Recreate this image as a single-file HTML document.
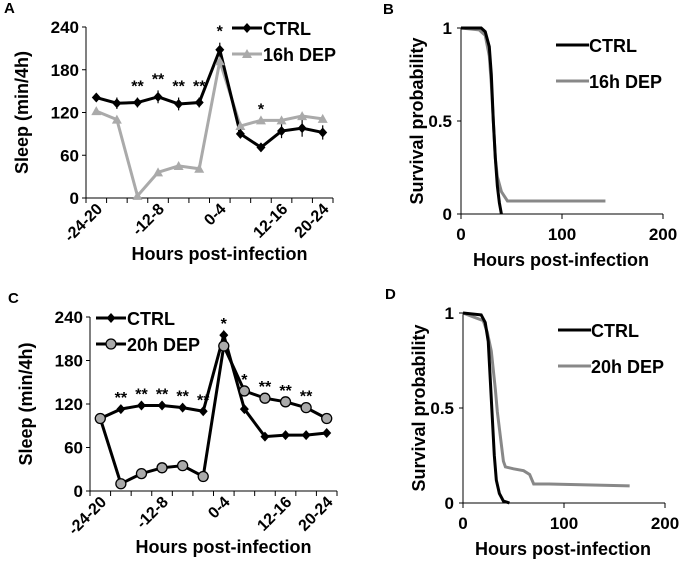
<!DOCTYPE html>
<html><head><meta charset="utf-8"><style>
body{margin:0;background:#fff;font-family:"Liberation Sans",Arial,sans-serif}
svg text{font-family:"Liberation Sans",Arial,sans-serif;font-weight:bold}
</style></head><body>
<svg id="fig" width="680" height="564" viewBox="0 0 680 564" xmlns="http://www.w3.org/2000/svg"></svg>
<script>
const cats=["-24-20","-20-16","-16-12","-12-8","-8-4","-4-0","0-4","4-8","8-12","12-16","16-20","20-24"];
const shownLabels=[0,3,6,9,11];
const yTicks=[0,60,120,180,240];
const aCtrl=[141,133,134,142,132,134,208,90,71,94,98,92];
const aCtrlErr=[5,8,7,9,9,7,10,6,5,10,12,10];
const aDep=[122,110,3,36,45,41,192,101,109,109,115,111];
const aStars=["","","**","**","**","**","*","","*","","",""];
const cCtrl=[100,113,118,118,115,110,215,113,75,77,77,80];
const cDep=[100,10,24,32,35,20,200,138,128,123,115,100];
const cStars=["","**","**","**","**","**","*","*","**","**","**",""];
const bCtrlT=[0,20,24,28,30,32,34,36,38,40];
const bCtrlS=[1,1,0.98,0.9,0.75,0.5,0.3,0.15,0.06,0];
const bDepT=[0,18,24,28,30,32,34,36,40,46,143];
const bDepS=[1,0.99,0.96,0.85,0.7,0.5,0.3,0.2,0.12,0.07,0.07];
const dCtrlT=[0,18,22,25,27,29,31,33,36,40,46];
const dCtrlS=[1,0.99,0.95,0.85,0.65,0.45,0.25,0.12,0.05,0.01,0];
const dDepT=[0,10,20,24,28,32,34,37,40,42,50,60,66,70,85,165];
const dDepS=[1,0.98,0.96,0.9,0.8,0.6,0.48,0.35,0.22,0.19,0.18,0.17,0.15,0.1,0.1,0.09];
const xTicksS=[0,100,200];
const yTicksS=[0,0.5,1];
const svg=document.getElementById('fig');
const NS="http://www.w3.org/2000/svg";
function el(tag,attrs,parent){const e=document.createElementNS(NS,tag);for(const k in attrs)e.setAttribute(k,attrs[k]);(parent||svg).appendChild(e);return e;}
function txt(s,attrs,parent){const t=el('text',attrs,parent);t.textContent=s;return t;}

function lineChart(id,letter,x0,x1,yTop,yBot,ctrl,err,dep,stars,depStyle,legendDep,legPos){
  const g=el('g',{});
  
  
  const step=(x1-x0)/cats.length;
  const X=i=>x0+step*(i+0.5);
  const Y=v=>yBot-(v/240)*(yBot-yTop);
  const lt=txt(letter,{x:x0-82,y:yTop-14,'font-size':15},g);
  
  el('line',{x1:x0,y1:yTop,x2:x0,y2:yBot,stroke:'#000','stroke-width':1},g);
  el('line',{x1:x0,y1:yBot,x2:x1,y2:yBot,stroke:'#000','stroke-width':1},g);
  yTicks.forEach(v=>{el('line',{x1:x0-4,y1:Y(v),x2:x0,y2:Y(v),stroke:'#000'},g);
    const t=txt(v,{x:x0-7,y:Y(v)+6,'font-size':17,'text-anchor':'end'},g);
    });
  for(let i=0;i<=cats.length;i++)el('line',{x1:x0+step*i,y1:yBot,x2:x0+step*i,y2:yBot+5,stroke:'#000'},g);
  shownLabels.forEach(i=>{const t=txt(cats[i],{transform:`translate(${X(i)+7},${yBot+12}) rotate(-45)`,'font-size':16,'text-anchor':'end'},g);
    });
  const yt=txt('Sleep (min/4h)',{transform:`translate(${x0-58},${(yTop+yBot)/2}) rotate(-90)`,'font-size':18,'text-anchor':'middle'},g);
  
  const xt=txt('Hours post-infection',{x:(x0+x1)/2+10,y:yBot+62,'font-size':18,'text-anchor':'middle'},g);
  
  const dc=depStyle==='tri'?'#aaa':'#000';
  const dl=el('polyline',{points:dep.map((v,i)=>X(i)+','+Y(v)).join(' '),fill:'none',stroke:dc,'stroke-width':3},g);
  
  const cl=el('polyline',{points:ctrl.map((v,i)=>X(i)+','+Y(v)).join(' '),fill:'none',stroke:'#000','stroke-width':3},g);
  
  if(err)ctrl.forEach((v,i)=>el('line',{x1:X(i),y1:Y(v+err[i]),x2:X(i),y2:Y(v-err[i]),stroke:'#000','stroke-width':1.2},g));
  function diamond(cx,cy){return el('polygon',{points:`${cx},${cy-5} ${cx+4.5},${cy} ${cx},${cy+5} ${cx-4.5},${cy}`,fill:'#000'},g);}
  function depMark(cx,cy){return depStyle==='tri'?el('polygon',{points:`${cx},${cy-5} ${cx+5},${cy+4} ${cx-5},${cy+4}`,fill:'#aaa'},g):el('circle',{cx:cx,cy:cy,r:5,fill:'#aaa',stroke:'#000','stroke-width':1.3},g);}
  if(depStyle==='tri'){
    dep.forEach((v,i)=>{const m=depMark(X(i),Y(v));});
    ctrl.forEach((v,i)=>{const m=diamond(X(i),Y(v));});
  } else {
    ctrl.forEach((v,i)=>{const m=diamond(X(i),Y(v));});
    dep.forEach((v,i)=>{const m=depMark(X(i),Y(v));});
  }
  stars.forEach((s,i)=>{if(!s)return;const top=Math.max(ctrl[i]+(err?err[i]:0),dep[i]);
    const t=txt(s,{x:X(i),y:Y(top)-6,'font-size':16,'text-anchor':'middle','font-weight':'normal'},g);
    });
  const [lx,ly]=legPos;
  el('line',{x1:lx,y1:ly,x2:lx+30,y2:ly,stroke:'#000','stroke-width':3},g);diamond(lx+15,ly);
  const l1=txt('CTRL',{x:lx+31,y:ly+7,'font-size':18},g);
  el('line',{x1:lx,y1:ly+26,x2:lx+30,y2:ly+26,stroke:dc,'stroke-width':3},g);depMark(lx+15,ly+26);
  const l2=txt(legendDep,{x:lx+31,y:ly+33,'font-size':18},g);
}
function survChart(id,letter,x0,x1,yTop,yBot,cT,cS,dT,dS,legendDep){
  const g=el('g',{});
  
  
  const X=t=>x0+t/200*(x1-x0);
  const Y=s=>yBot-s*(yBot-yTop);
  const lt=txt(letter,{x:x0-78,y:yTop-14,'font-size':15},g);
  
  el('line',{x1:x0,y1:yTop,x2:x0,y2:yBot,stroke:'#000'},g);
  el('line',{x1:x0,y1:yBot,x2:x1,y2:yBot,stroke:'#000'},g);
  yTicksS.forEach(v=>{el('line',{x1:x0-4,y1:Y(v),x2:x0,y2:Y(v),stroke:'#000'},g);
    const t=txt(v,{x:x0-9,y:Y(v)+6,'font-size':17,'text-anchor':'end'},g);});
  xTicksS.forEach(v=>{el('line',{x1:X(v),y1:yBot,x2:X(v),y2:yBot+5,stroke:'#000'},g);
    const t=txt(v,{x:X(v),y:yBot+26,'font-size':17,'text-anchor':'middle'},g);});
  const yt=txt('Survival probability',{transform:`translate(${x0-38},${(yTop+yBot)/2}) rotate(-90)`,'font-size':18,'text-anchor':'middle'},g);
  
  const xt=txt('Hours post-infection',{x:x0+100,y:yBot+52,'font-size':18,'text-anchor':'middle'},g);
  
  const dl=el('polyline',{points:dT.map((t,i)=>X(t)+','+Y(dS[i])).join(' '),fill:'none',stroke:'#888','stroke-width':3},g);
  
  const cl=el('polyline',{points:cT.map((t,i)=>X(t)+','+Y(cS[i])).join(' '),fill:'none',stroke:'#000','stroke-width':3},g);
  
  const lx=x0+95,ly=yTop+17;
  el('line',{x1:lx,y1:ly,x2:lx+33,y2:ly,stroke:'#000','stroke-width':3},g);
  const l1=txt('CTRL',{x:lx+33,y:ly+7,'font-size':18},g);
  el('line',{x1:lx,y1:ly+36,x2:lx+33,y2:ly+36,stroke:'#888','stroke-width':3},g);
  const l2=txt(legendDep,{x:lx+33,y:ly+43,'font-size':18},g);
}
lineChart('panel-a-sleep','A',86,333,27,198,aCtrl,aCtrlErr,aDep,aStars,'tri','16h DEP',[232,28]);
lineChart('panel-c-sleep','C',90,337,317,491,cCtrl,null,cDep,cStars,'circ','20h DEP',[96,318]);
survChart('panel-b-survival','B',461,663,28,214,bCtrlT,bCtrlS,bDepT,bDepS,'16h DEP');
survChart('panel-d-survival','D',463,665,313,503,dCtrlT,dCtrlS,dDepT,dDepS,'20h DEP');
</script>
</body></html>
